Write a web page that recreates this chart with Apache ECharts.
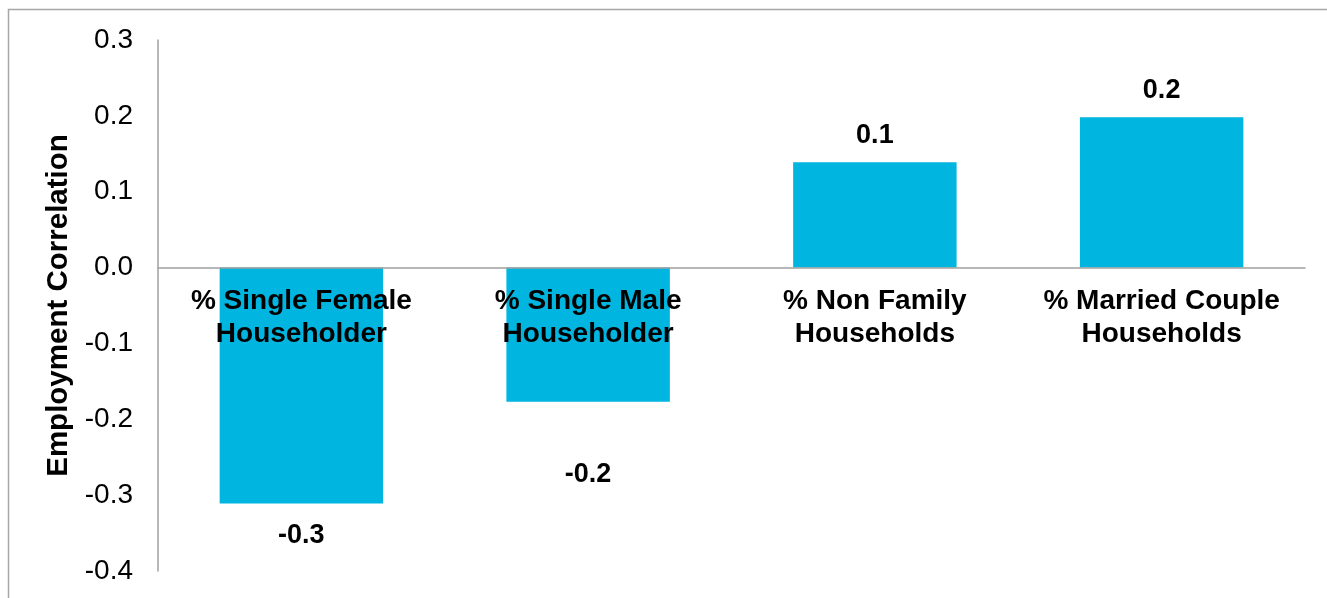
<!DOCTYPE html>
<html>
<head>
<meta charset="utf-8">
<script src="https://cdn.jsdelivr.net/npm/echarts@6/dist/echarts.min.js"></script>
<style>
html,body{margin:0;padding:0;background:#fff;}
#chart{width:1327px;height:598px;}
</style>
</head>
<body>
<div id="chart"></div>
<script>
const categories = ["% Single Female\nHouseholder", "% Single Male\nHouseholder", "% Non Family\nHouseholds", "% Married Couple\nHouseholds"];
const values = [-0.311, -0.177, 0.139, 0.198];
const labelGaps = [19, 59, 13, 13];
const yTicks = { min: -0.4, max: 0.3, step: 0.1 };
const axisTitle = "Employment Correlation";

const FONT = '"Liberation Sans", Arial, sans-serif';
const W = 1327, H = 598;
const GRID = { left: 158, top: 40, right: 22, bottom: 27 };
const plotH = H - GRID.top - GRID.bottom;
// distance of the zero line above the plot bottom, from the axis scale
const zeroOffset = (0 - yTicks.min) / (yTicks.max - yTicks.min) * plotH;

const chart = echarts.init(document.getElementById('chart'), null, { renderer: 'canvas' });

const data = values.map((v, i) => ({
  value: v,
  label: {
    position: v >= 0 ? 'top' : 'bottom',
    distance: labelGaps[i]
  }
}));

chart.setOption({
  animation: false,
  backgroundColor: '#ffffff',
  graphic: [{
    type: 'rect',
    shape: { x: 8.5, y: 9.5, width: 1400, height: 700 },
    style: { fill: 'none', stroke: '#a6a6a6', lineWidth: 1.5 },
    z: -1
  }],
  grid: Object.assign({ containLabel: false, outerBoundsMode: 'none' }, GRID),
  xAxis: {
    type: 'category',
    data: categories,
    position: 'bottom',
    offset: -zeroOffset,
    axisLine: { onZero: false, lineStyle: { color: '#a0a0a0', width: 1.5 } },
    axisTick: { show: false },
    axisLabel: {
      interval: 0,
      margin: 17,
      color: '#000',
      fontFamily: FONT,
      fontWeight: 'bold',
      fontSize: 28,
      lineHeight: 33
    },
    splitLine: { show: false },
    z: 3
  },
  yAxis: {
    type: 'value',
    min: yTicks.min,
    max: yTicks.max,
    interval: yTicks.step,
    name: axisTitle,
    nameLocation: 'middle',
    nameGap: 84,
    nameTextStyle: { color: '#000', fontFamily: FONT, fontWeight: 'bold', fontSize: 29.5 },
    axisLine: { show: true, lineStyle: { color: '#a0a0a0', width: 1.5 } },
    axisTick: { show: false },
    splitLine: { show: false },
    axisLabel: {
      margin: 25,
      color: '#000',
      fontFamily: FONT,
      fontSize: 28,
      formatter: v => (Math.round(v * 10) / 10).toFixed(1)
    }
  },
  series: [{
    type: 'bar',
    data: data,
    barWidth: '57%',
    itemStyle: { color: '#00b5e0' },
    z: 2,
    label: {
      show: true,
      color: '#000',
      fontFamily: FONT,
      fontWeight: 'bold',
      fontSize: 27,
      formatter: p => p.value.toFixed(1)
    }
  }]
});
</script>
</body>
</html>
